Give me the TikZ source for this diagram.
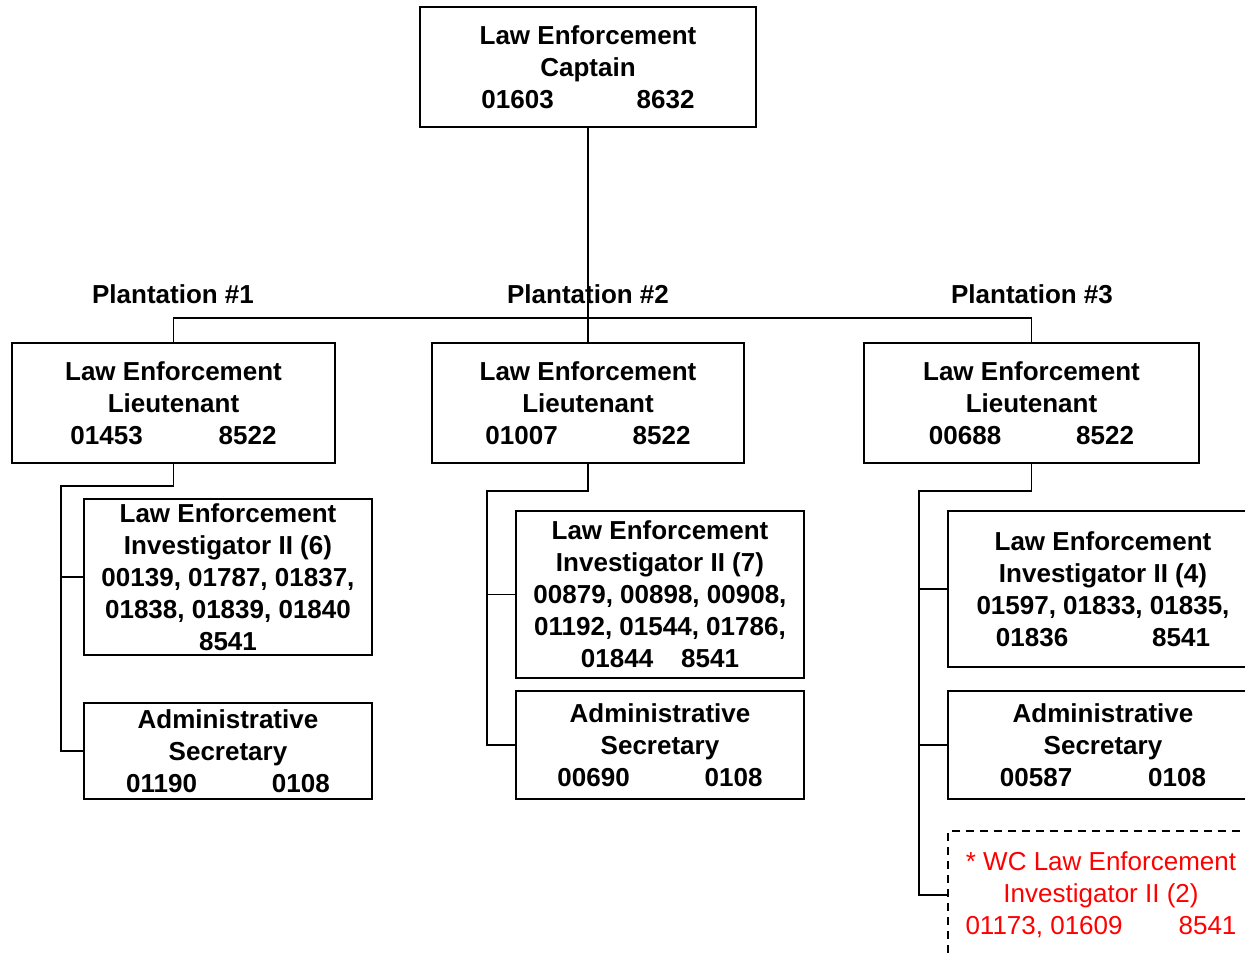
\documentclass[tikz,border=0pt]{standalone}
\usepackage{fontspec}
\setmainfont{Liberation Sans}
\begin{document}
\begin{tikzpicture}[x=1pt,y=-1pt,
  every node/.style={font=\fontsize{26}{32}\selectfont\bfseries, align=center, inner sep=0pt},
  post/.style={draw, line width=1.6pt, fill=white},
  planned/.style={draw, line width=1.6pt, dash pattern=on 8pt off 6pt, text=red, font=\fontsize{26}{32}\selectfont\mdseries},
  link/.style={line width=1.6pt},
  region/.style={font=\fontsize{26}{30}\selectfont\bfseries}]
\useasboundingbox (0,0) rectangle (1245,956);
\clip (0,0) rectangle (1245,956);

% Captain
\node[post, minimum width=336pt, minimum height=120pt] (cap) at (588,67)
  {Law Enforcement\\Captain\\01603\hspace{83pt}8632};

% Lieutenants
\node[post, minimum width=323pt, minimum height=120pt] (lt1) at (173.5,403)
  {Law Enforcement\\Lieutenant\\01453\hspace{76pt}8522};
\node[post, minimum width=312pt, minimum height=120pt] (lt2) at (588,403)
  {Law Enforcement\\Lieutenant\\01007\hspace{75pt}8522};
\node[post, minimum width=335pt, minimum height=120pt] (lt3) at (1031.5,403)
  {Law Enforcement\\Lieutenant\\00688\hspace{75pt}8522};

% Plantation labels
\node[region] (p1) at (173,294) {Plantation \#1};
\node[region] (p2) at (588,294) {Plantation \#2};
\node[region] (p3) at (1032,294) {Plantation \#3};

% Plantation #1 staff
\node[post, minimum width=288pt, minimum height=156pt] (inv1) at (228,577)
  {Law Enforcement\\Investigator II (6)\\00139, 01787, 01837,\\01838, 01839, 01840\\8541};
\node[post, minimum width=288pt, minimum height=96pt] (sec1) at (228,751)
  {Administrative\\Secretary\\01190\hspace{75pt}0108};

% Plantation #2 staff
\node[post, minimum width=288pt, minimum height=167pt] (inv2) at (660,594.5)
  {Law Enforcement\\Investigator II (7)\\00879, 00898, 00908,\\01192, 01544, 01786,\\01844\hspace{28pt}8541};
\node[post, minimum width=288pt, minimum height=108pt] (sec2) at (660,745)
  {Administrative\\Secretary\\00690\hspace{75pt}0108};

% Plantation #3 staff
\node[post, minimum width=310pt, minimum height=156pt] (inv3) at (1103,589)
  {Law Enforcement\\Investigator II (4)\\01597, 01833, 01835,\\01836\hspace{84pt}8541};
\node[post, minimum width=310pt, minimum height=108pt] (sec3) at (1103,745)
  {Administrative\\Secretary\\00587\hspace{76pt}0108};
\node[planned, minimum width=306pt, minimum height=128pt] (wc3) at (1101,895)
  {* WC Law Enforcement\\Investigator II (2)\\01173, 01609\hspace{56pt}8541};

% Captain to lieutenants
\draw[link] (cap.south) -- (lt2.north);
\draw[link] (lt1.north) -- ++(0,-24) -| (lt3.north);

% Lieutenant 1 branch
\coordinate (b1) at (61,486);
\draw[link] (lt1.south) |- (b1) |- (sec1.west);
\draw[link] (inv1.west) -- (inv1.west -| b1);

% Lieutenant 2 branch
\coordinate (b2) at (487,491);
\draw[link] (lt2.south) |- (b2) |- (sec2.west);
\draw[link] (inv2.west) -- (inv2.west -| b2);

% Lieutenant 3 branch
\coordinate (b3) at (919,491);
\draw[link] (lt3.south) |- (b3) |- (wc3.west);
\draw[link] (inv3.west) -- (inv3.west -| b3);
\draw[link] (sec3.west) -- (sec3.west -| b3);
\end{tikzpicture}
\end{document}
